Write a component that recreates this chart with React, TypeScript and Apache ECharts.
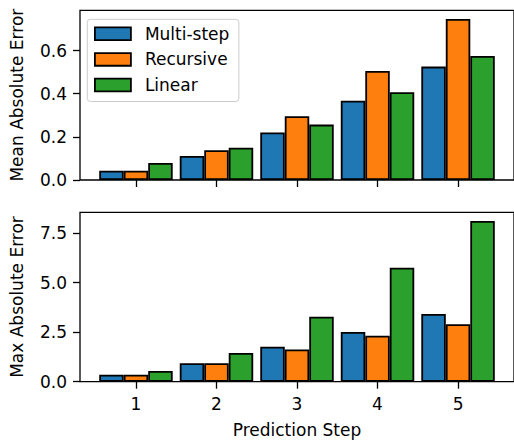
import React, { useEffect, useRef } from "react";
import * as echarts from "echarts";

const steps = [1, 2, 3, 4, 5];
const seriesNames = ["Multi-step", "Recursive", "Linear"];
const meanMultiStep = [0.043, 0.111, 0.22, 0.368, 0.526];
const meanRecursive = [0.043, 0.138, 0.296, 0.506, 0.747];
const meanLinear = [0.079, 0.15, 0.257, 0.407, 0.575];
const maxMultiStep = [0.35, 0.93, 1.77, 2.51, 3.42];
const maxRecursive = [0.35, 0.93, 1.63, 2.32, 2.9];
const maxLinear = [0.54, 1.45, 3.28, 5.75, 8.11];
const meanTicks = [0, 0.2, 0.4, 0.6];
const maxTicks = [0, 2.5, 5, 7.5];
const colors = ["#1f77b4", "#ff7f0e", "#2ca02c"];

const FONT = "DejaVu Sans";
const FS = 17;

export default function App() {
  const ref = useRef<HTMLDivElement>(null);
  useEffect(() => {
    if (!ref.current) return;
    const chart = echarts.init(ref.current, null, { renderer: "svg" });
    const groups = [
      [meanMultiStep, meanRecursive, meanLinear],
      [maxMultiStep, maxRecursive, maxLinear],
    ];
    const gridW = 440;
    const barW = (gridW / 5.39) * 0.3;
    const series: any[] = [];
    groups.forEach((g, gi) => {
      g.forEach((vals, j) => {
        series.push({
          type: "bar",
          name: seriesNames[j],
          xAxisIndex: gi,
          yAxisIndex: gi,
          data: steps.map((s, i) => [s, vals[i]]),
          barWidth: barW,
          barGap: "0%",
          itemStyle: { color: colors[j], borderColor: "#000", borderWidth: 1.8 },
        });
      });
    });
    const tickStyle = { show: true, length: 7, lineStyle: { color: "#000", width: 1.3 } };
    const labelStyle = { fontSize: FS, fontFamily: FONT, color: "#000" };
    const xAxisBase = (gi: number) => ({
      type: "value",
      gridIndex: gi,
      min: 0.305,
      max: 5.695,
      axisLine: { show: false },
      splitLine: { show: false },
      axisTick: { ...tickStyle, customValues: steps },
      axisLabel: gi === 1 ? { ...labelStyle, margin: 14, customValues: steps } : { show: false },
      name: gi === 1 ? "Prediction Step" : "",
      nameLocation: "middle",
      nameGap: 40,
      nameTextStyle: labelStyle,
    });
    const yAxisBase = (gi: number) => ({
      type: "value",
      gridIndex: gi,
      min: 0,
      max: gi === 0 ? 0.787 : 8.55,
      interval: gi === 0 ? 0.2 : 2.5,
      axisLine: { show: false },
      splitLine: { show: false },
      axisTick: { ...tickStyle, customValues: gi === 0 ? meanTicks : maxTicks },
      axisLabel: {
        ...labelStyle,
        margin: 13,
        customValues: gi === 0 ? meanTicks : maxTicks,
        formatter: (v: number) => v.toFixed(1),
      },
      name: gi === 0 ? "Mean Absolute Error" : "Max Absolute Error",
      nameLocation: "middle",
      nameGap: 55,
      nameTextStyle: labelStyle,
    });
    chart.setOption({
      animation: false,
      grid: [
        { left: 79, top: 10.3, width: gridW, height: 169.7, show: true, borderColor: "#000", borderWidth: 1.3, backgroundColor: "transparent" },
        { left: 79, top: 212.3, width: gridW, height: 169.4, show: true, borderColor: "#000", borderWidth: 1.3, backgroundColor: "transparent" },
      ],
      xAxis: [xAxisBase(0), xAxisBase(1)],
      yAxis: [yAxisBase(0), yAxisBase(1)],
      legend: {
        data: seriesNames,
        orient: "vertical",
        left: 87.3,
        top: 19.3,
        padding: [6, 9.5, 8, 6.7],
        itemWidth: 36,
        itemHeight: 12.7,
        itemGap: 8.6,
        icon: "rect",
        backgroundColor: "rgba(255,255,255,0.8)",
        borderColor: "#ccc",
        borderWidth: 1,
        borderRadius: 3,
        textStyle: { ...labelStyle, padding: [0, 0, 0, 9] },
        itemStyle: { borderColor: "#000", borderWidth: 1.8 },
      },
      series,
    });
    return () => chart.dispose();
  }, []);
  return <div ref={ref} style={{ width: 514, height: 443, position: "absolute", left: 0, top: 0 }} />;
}
